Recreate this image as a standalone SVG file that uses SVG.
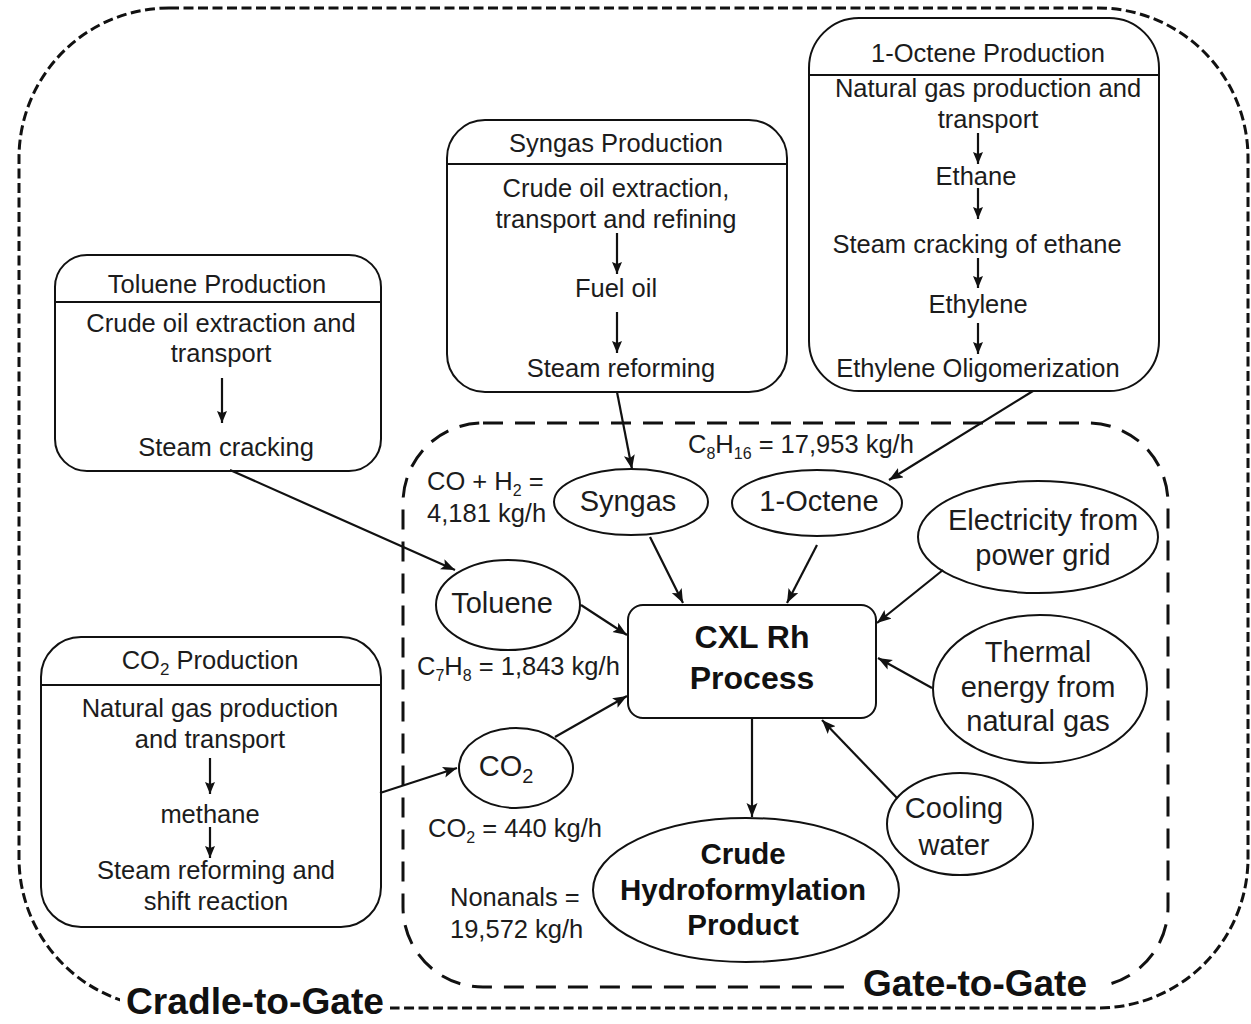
<svg xmlns="http://www.w3.org/2000/svg" width="1251" height="1024" viewBox="0 0 1251 1024">
  <defs>
    <marker id="arrow" markerUnits="userSpaceOnUse" markerWidth="16" markerHeight="12" refX="14" refY="5.5" orient="auto">
      <path d="M0,0 L14,5.5 L0,11 L3,5.5 z" fill="#111"/>
    </marker>
    <marker id="arrow-sm" markerUnits="userSpaceOnUse" markerWidth="14" markerHeight="11" refX="12" refY="5" orient="auto">
      <path d="M0,0 L12,5 L0,10 L2,5 z" fill="#111"/>
    </marker>
    <style>
      text { font-family: "Liberation Sans", Arial, sans-serif; fill: #1c1c1c; }
      .box { fill: #fff; stroke: #111; stroke-width: 2; }
      .div { stroke: #111; stroke-width: 2; }
      .t { font-size: 25.5px; text-anchor: middle; }
      .lbl { font-size: 25.5px; }
      .el { font-size: 29px; text-anchor: middle; }
      .bold { font-weight: bold; fill: #111; text-anchor: middle; }
      .conn { stroke: #111; stroke-width: 2.2; fill: none; marker-end: url(#arrow); }
      .flow { stroke: #111; stroke-width: 2.2; fill: none; marker-end: url(#arrow-sm); }
      .outer { fill: none; stroke: #111; stroke-width: 3; stroke-dasharray: 10 4.5; }
      .inner { fill: none; stroke: #111; stroke-width: 3; stroke-dasharray: 20 12; }
      .scope { font-size: 36px; font-weight: bold; fill: #111; }
    </style>
  </defs>

  <!-- system boundaries -->
  <g id="cradle-to-gate">
    <rect class="outer" x="19" y="8" width="1229" height="1000" rx="150" ry="150"/>
    <rect x="120" y="986" width="270" height="38" fill="#fff"/>
    <text class="scope" x="126" y="1014" textLength="258" lengthAdjust="spacingAndGlyphs">Cradle-to-Gate</text>
  </g>
  <g id="gate-to-gate">
    <rect class="inner" x="403" y="423" width="765" height="564" rx="80" ry="80"/>
    <rect x="845" y="962" width="256" height="38" fill="#fff"/>
    <text class="scope" x="863" y="996" textLength="224" lengthAdjust="spacingAndGlyphs">Gate-to-Gate</text>
  </g>

  <!-- upstream production chains -->
  <g id="toluene-production">
    <rect class="box" x="55" y="255" width="326" height="216" rx="32" ry="32"/>
    <line class="div" x1="55" y1="302" x2="381" y2="302"/>
    <text class="t" x="217" y="293">Toluene Production</text>
    <text class="t" x="221" y="332">Crude oil extraction and</text>
    <text class="t" x="221" y="362">transport</text>
    <line class="flow" x1="222" y1="378" x2="222" y2="423"/>
    <text class="t" x="226" y="456">Steam cracking</text>
  </g>

  <g id="syngas-production">
    <rect class="box" x="447" y="120" width="340" height="272" rx="38" ry="38"/>
    <line class="div" x1="447" y1="164" x2="787" y2="164"/>
    <text class="t" x="616" y="152">Syngas Production</text>
    <text class="t" x="616" y="197">Crude oil extraction,</text>
    <text class="t" x="616" y="228">transport and refining</text>
    <line class="flow" x1="617" y1="233" x2="617" y2="274"/>
    <text class="t" x="616" y="297">Fuel oil</text>
    <line class="flow" x1="617" y1="312" x2="617" y2="353"/>
    <text class="t" x="621" y="377">Steam reforming</text>
  </g>

  <g id="octene-production">
    <rect class="box" x="809" y="18" width="350" height="373" rx="50" ry="50"/>
    <line class="div" x1="809" y1="75" x2="1159" y2="75"/>
    <text class="t" x="988" y="62">1-Octene Production</text>
    <text class="t" x="988" y="97">Natural gas production and</text>
    <text class="t" x="988" y="128">transport</text>
    <line class="flow" x1="978" y1="133" x2="978" y2="164"/>
    <text class="t" x="976" y="185">Ethane</text>
    <line class="flow" x1="978" y1="188" x2="978" y2="219"/>
    <text class="t" x="977" y="253">Steam cracking of ethane</text>
    <line class="flow" x1="978" y1="258" x2="978" y2="288"/>
    <text class="t" x="978" y="313">Ethylene</text>
    <line class="flow" x1="978" y1="323" x2="978" y2="354"/>
    <text class="t" x="978" y="377">Ethylene Oligomerization</text>
  </g>

  <g id="co2-production">
    <rect class="box" x="41" y="637" width="340" height="290" rx="40" ry="40"/>
    <line class="div" x1="41" y1="685" x2="381" y2="685"/>
    <text class="t" x="210" y="669">CO<tspan font-size="17" dy="6">2</tspan><tspan dy="-6"> Production</tspan></text>
    <text class="t" x="210" y="717">Natural gas production</text>
    <text class="t" x="210" y="748">and transport</text>
    <line class="flow" x1="210" y1="758" x2="210" y2="794"/>
    <text class="t" x="210" y="823">methane</text>
    <line class="flow" x1="210" y1="827" x2="210" y2="858"/>
    <text class="t" x="216" y="879">Steam reforming and</text>
    <text class="t" x="216" y="910">shift reaction</text>
  </g>

  <!-- gate-to-gate inputs, process and product -->
  <g id="syngas">
    <ellipse class="box" cx="631" cy="502" rx="77" ry="33"/>
    <text class="el" x="628" y="511">Syngas</text>
  </g>
  <g id="octene">
    <ellipse class="box" cx="817" cy="503" rx="85" ry="33"/>
    <text class="el" x="819" y="511">1-Octene</text>
  </g>
  <g id="toluene">
    <ellipse class="box" cx="508" cy="605" rx="72" ry="45"/>
    <text class="el" x="502" y="613">Toluene</text>
  </g>
  <g id="co2">
    <ellipse class="box" cx="516" cy="768" rx="57" ry="40"/>
    <text class="el" x="506" y="776">CO<tspan font-size="20" dy="7">2</tspan></text>
  </g>
  <g id="electricity">
    <ellipse class="box" cx="1038" cy="537" rx="120" ry="56"/>
    <text class="el" x="1043" y="530">Electricity from</text>
    <text class="el" x="1043" y="565">power grid</text>
  </g>
  <g id="thermal-energy">
    <ellipse class="box" cx="1040" cy="689" rx="107" ry="74"/>
    <text class="el" x="1038" y="662">Thermal</text>
    <text class="el" x="1038" y="697">energy from</text>
    <text class="el" x="1038" y="731">natural gas</text>
  </g>
  <g id="cooling-water">
    <ellipse class="box" cx="960" cy="824" rx="73" ry="51"/>
    <text class="el" x="954" y="818">Cooling</text>
    <text class="el" x="954" y="855">water</text>
  </g>
  <g id="cxl-rh-process">
    <rect class="box" x="628" y="605" width="248" height="113" rx="15" ry="15"/>
    <text class="bold" x="752" y="648" font-size="32">CXL Rh</text>
    <text class="bold" x="752" y="689" font-size="32">Process</text>
  </g>
  <g id="crude-product">
    <ellipse class="box" cx="746" cy="890" rx="153" ry="72"/>
    <text class="bold" x="743" y="864" font-size="29.5">Crude</text>
    <text class="bold" x="743" y="900" font-size="29.5">Hydroformylation</text>
    <text class="bold" x="743" y="935" font-size="29.5">Product</text>
  </g>

  <!-- mass flow labels -->
  <g id="flow-labels">
    <text class="lbl" x="427" y="490">CO + H<tspan font-size="16" dy="6">2</tspan><tspan dy="-6"> =</tspan></text>
    <text class="lbl" x="427" y="522">4,181 kg/h</text>
    <text class="lbl" x="688" y="453">C<tspan font-size="16" dy="6">8</tspan><tspan dy="-6">H</tspan><tspan font-size="16" dy="6">16</tspan><tspan dy="-6"> = 17,953 kg/h</tspan></text>
    <text class="lbl" x="417" y="675">C<tspan font-size="16" dy="6">7</tspan><tspan dy="-6">H</tspan><tspan font-size="16" dy="6">8</tspan><tspan dy="-6"> = 1,843 kg/h</tspan></text>
    <text class="lbl" x="428" y="837">CO<tspan font-size="16" dy="6">2</tspan><tspan dy="-6"> = 440 kg/h</tspan></text>
    <text class="lbl" x="450" y="906">Nonanals =</text>
    <text class="lbl" x="450" y="938">19,572 kg/h</text>
  </g>

  <!-- connectors -->
  <g id="connectors">
    <line class="conn" x1="617" y1="392" x2="632" y2="469"/>
    <line class="conn" x1="1033" y1="391" x2="889" y2="480"/>
    <line class="conn" x1="230" y1="470" x2="455" y2="570"/>
    <line class="conn" x1="380" y1="793" x2="457" y2="768"/>
    <line class="conn" x1="650" y1="537" x2="683" y2="603"/>
    <line class="conn" x1="817" y1="545" x2="787" y2="603"/>
    <line class="conn" x1="581" y1="605" x2="627" y2="635"/>
    <line class="conn" x1="555" y1="737" x2="627" y2="696"/>
    <line class="conn" x1="943" y1="570" x2="877" y2="623"/>
    <line class="conn" x1="932" y1="688" x2="878" y2="658"/>
    <line class="conn" x1="897" y1="798" x2="822" y2="720"/>
    <line class="conn" x1="752" y1="718" x2="752" y2="817"/>
  </g>
</svg>
